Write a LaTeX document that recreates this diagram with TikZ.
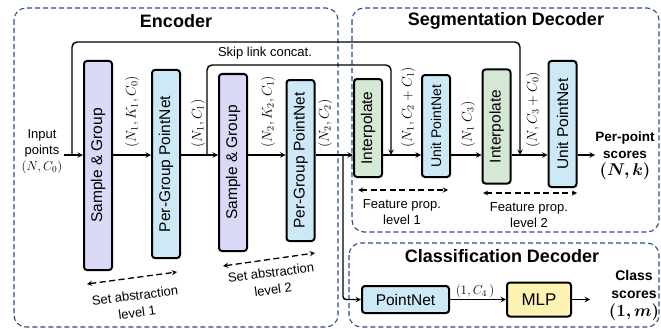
\RequirePackage{fix-cm}
\documentclass[tikz,border=0pt]{standalone}
\usepackage{fontspec}
\setmainfont{Liberation Sans}
\usepackage{bm}
\definecolor{framecol}{HTML}{2B4C8C}
\definecolor{sgfill}{HTML}{DADAF8}
\definecolor{pnfill}{HTML}{CDE9F6}
\definecolor{ipfill}{HTML}{D5E8D4}
\definecolor{mlpfill}{HTML}{FFF3B3}
\newcommand{\lblfont}{\fontsize{13}{16}\selectfont}
\newcommand{\blkfont}{\fontsize{15.5}{18}\selectfont}
\newcommand{\ttlfont}{\fontsize{18}{21}\selectfont\bfseries}
\begin{document}
\begin{tikzpicture}[>=stealth, x=1pt, y=-1pt,
  frame/.style={draw=framecol, dash pattern=on 5pt off 3pt, line width=1.1pt, rounded corners=12pt},
  blk/.style={draw, line width=2pt, rounded corners=3pt, inner sep=0pt, minimum width=28pt, font=\blkfont},
  sgblk/.style={blk, fill=sgfill},
  pnblk/.style={blk, fill=pnfill},
  ipblk/.style={blk, fill=ipfill},
  dimlbl/.style={rotate=90, anchor=west, inner sep=1pt, font=\fontsize{14}{16}\selectfont},
  flowline/.style={->, line width=1.4pt},
  spanarrow/.style={<->, line width=1.3pt, dash pattern=on 6pt off 3.5pt},
  note/.style={align=center, font=\lblfont, inner sep=0pt}]
  \useasboundingbox (0,0) rectangle (661,329);
  % dashed frames
  \draw[frame] (14,8) rectangle (338,327);
  \draw[frame] (352,8) rectangle (659,232);
  \draw[frame] (349,243) rectangle (659,327);
  % titles
  \node[font=\ttlfont] (tenc) at (176,21) {Encoder};
  \node[font=\ttlfont] (tseg) at (506,21) {Segmentation Decoder};
  \node[font=\ttlfont] (tcls) at (502,256) {Classification Decoder};
  % main flow level
  \coordinate (flow) at (0,155);
  % input
  \node[note, inner sep=1pt] (in) at (42,152) {Input\\points\\$(N,C_0)$};
  % encoder blocks
  \node[sgblk, minimum height=209pt] (sg1) at (98,165.5) {\rotatebox{90}{Sample \& Group}};
  \node[pnblk, minimum height=188pt] (pg1) at (166,164) {\rotatebox{90}{Per-Group PointNet}};
  \node[sgblk, minimum height=177pt] (sg2) at (233,162.5) {\rotatebox{90}{Sample \& Group}};
  \node[pnblk, minimum height=161pt] (pg2) at (300.5,160.5) {\rotatebox{90}{Per-Group PointNet}};
  % segmentation decoder blocks
  \node[ipblk, minimum height=98pt] (ip1) at (368,128) {\rotatebox{90}{Interpolate}};
  \node[pnblk, minimum height=102pt, font=\fontsize{14}{16}\selectfont] (up1) at (436,126) {\rotatebox{90}{Unit PointNet}};
  \node[ipblk, minimum height=114pt] (ip2) at (496.5,126.5) {\rotatebox{90}{Interpolate}};
  \node[pnblk, minimum height=126pt] (up2) at (562.5,124) {\rotatebox{90}{Unit PointNet}};
  % classification decoder blocks
  \node[blk, fill=pnfill, minimum width=87pt, minimum height=27pt] (pn) at (405.5,299.5) {PointNet};
  \node[blk, fill=mlpfill, minimum width=64pt, minimum height=34pt, font=\fontsize{17}{20}\selectfont] (mlp) at (539,299.5) {MLP};
  % junctions on the flow
  \coordinate (jA) at (72,155);
  \coordinate (jB) at (207,155);
  \coordinate (jC) at (391,155);
  \coordinate (jD) at (520,155);
  \coordinate (jE) at (343,155);
  \coordinate (outS) at (595,155);
  \coordinate (outC) at (590,299.5);
  % flow arrows
  \draw[flowline] (in.east |- flow) -- (sg1.west |- flow);
  \draw[flowline] (sg1.east |- flow) -- (pg1.west |- flow);
  \draw[flowline] (pg1.east |- flow) -- (sg2.west |- flow);
  \draw[flowline] (sg2.east |- flow) -- (pg2.west |- flow);
  \draw[flowline] (pg2.east |- flow) -- (ip1.west |- flow);
  \draw[flowline] (ip1.east |- flow) -- (up1.west |- flow);
  \draw[flowline] (up1.east |- flow) -- (ip2.west |- flow);
  \draw[flowline] (ip2.east |- flow) -- (up2.west |- flow);
  \draw[flowline] (up2.east |- flow) -- (outS);
  \draw[flowline, rounded corners=3pt] (jE) |- (pn.west);
  \draw[flowline] (pn.east) -- (mlp.west);
  \draw[flowline] (mlp.east) -- (outC);
  % skip links
  \draw[flowline, rounded corners=5pt] (jA) -- (jA |- 0,42) -- (jD |- 0,42) -- (jD);
  \draw[flowline, rounded corners=5pt] (jB) -- (jB |- 0,65) -- (jC |- 0,65) -- (jC);
  \node[note] (skip) at (265,53) {Skip link concat.};
  % tensor shapes
  \node[dimlbl] (d1) at (132,149) {$(N_1,K_1,C_0)$};
  \node[dimlbl] (d2) at (198,149) {$(N_1,C_1)$};
  \node[dimlbl] (d3) at (268,149) {$(N_2,K_2,C_1)$};
  \node[dimlbl] (d4) at (325,149) {$(N_2,C_2)$};
  \node[dimlbl] (d5) at (408,149) {$(N_1,C_2+C_1)$};
  \node[dimlbl] (d6) at (468,149) {$(N_1\;C_3)$};
  \node[dimlbl] (d7) at (533,149) {$(N,C_3+C_0)$};
  \node[font=\fontsize{13}{15}\selectfont] (d8) at (475,291) {$(1,C_4\,)$};
  % outputs
  \node[align=center, font=\fontsize{13.5}{17}\selectfont\bfseries] (psc) at (625,156)
    {Per-point\\scores\\{\fontsize{17}{19}\selectfont$\bm{(N,k)}$}};
  \node[align=center, font=\fontsize{14}{18}\selectfont\bfseries] (csc) at (634,296)
    {Class\\scores\\{\fontsize{17}{19}\selectfont$\bm{(1,m)}$}};
  % set abstraction spans
  \coordinate (sa1l) at (87,284);
  \coordinate (sa1r) at (177,272);
  \coordinate (sa2l) at (223,266);
  \coordinate (sa2r) at (315,253);
  \draw[spanarrow] (sa1l) -- (sa1r);
  \draw[spanarrow] (sa2l) -- (sa2r);
  \node[note, rotate=7.5, font=\fontsize{13}{17}\selectfont] (sa1) at (136,304) {Set abstraction\\level 1};
  \node[note, rotate=7.5, font=\fontsize{13}{17}\selectfont] (sa2) at (272,281) {Set abstraction\\level 2};
  % feature propagation spans
  \coordinate (fp1l) at (358,190);
  \coordinate (fp1r) at (448,190);
  \coordinate (fp2l) at (483,193);
  \coordinate (fp2r) at (577,193);
  \draw[spanarrow] (fp1l) -- (fp1r);
  \draw[spanarrow] (fp2l) -- (fp2r);
  \node[note] (fp1) at (402,212) {Feature prop.\\level 1};
  \node[note] (fp2) at (529,215) {Feature prop.\\level 2};
\end{tikzpicture}
\end{document}
